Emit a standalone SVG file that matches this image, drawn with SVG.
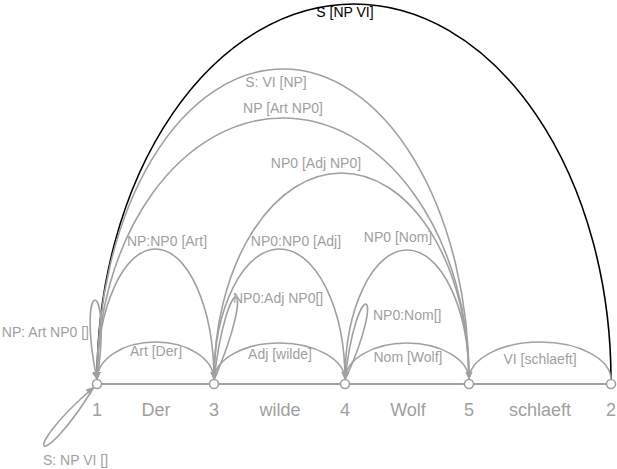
<svg xmlns="http://www.w3.org/2000/svg" width="617" height="469" viewBox="0 0 617 469">
<style>
.e{fill:none;stroke:#a0a0a0;stroke-width:1.6}
.k{fill:none;stroke:#000;stroke-width:1.6}
.t{font-family:"Liberation Sans",Arial,Helvetica,sans-serif;font-size:14px;fill:#a0a0a0}
.tk{font-family:"Liberation Sans",Arial,Helvetica,sans-serif;font-size:14px;fill:#000}
.w{font-family:"Liberation Sans",Arial,Helvetica,sans-serif;font-size:18px;fill:#a0a0a0;text-anchor:middle}
.m{text-anchor:middle}
.n{fill:#fff;stroke:#a0a0a0;stroke-width:1.6}
</style>
<defs>
<marker id="a" viewBox="0 0 10 10" refX="10" refY="5" markerWidth="9" markerHeight="8" orient="auto" markerUnits="userSpaceOnUse"><path d="M0,0.5 L10,5 L0,9.5 z" fill="#a0a0a0"/></marker>
<marker id="ak" viewBox="0 0 10 10" refX="10" refY="5" markerWidth="9" markerHeight="8" orient="auto" markerUnits="userSpaceOnUse"><path d="M0,0.5 L10,5 L0,9.5 z" fill="#000"/></marker>
</defs>
<rect width="617" height="469" fill="#fff"/>
<g id="connectors">
<line x1="97" y1="384" x2="611" y2="384" stroke="#a0a0a0" stroke-width="2"/>
<g id="e-S-NP-VI"><path class="k" d="M611,380 A257,376 0 0 0 97,380" marker-end="url(#ak)"/><text class="tk m" x="345" y="17">S [NP VI]</text></g>
<g id="e-S-VI-NP"><path class="e" d="M469,380 A186,311 0 0 0 97,380" marker-end="url(#a)"/><text class="t m" x="276" y="87">S: VI [NP]</text></g>
<g id="e-NP-Art-NP0"><path class="e" d="M469,380 A186,262 0 0 0 97,380" marker-end="url(#a)"/><text class="t m" x="283" y="113">NP [Art NP0]</text></g>
<g id="e-NP0-Adj-NP0"><path class="e" d="M469,380 A127.5,207 0 0 0 214,380" marker-end="url(#a)"/><text class="t m" x="316" y="168">NP0 [Adj NP0]</text></g>
<g id="e-NP-NP0-Art"><path class="e" d="M214,380 A58.5,131 0 0 0 97,380" marker-end="url(#a)"/><text class="t m" x="167" y="246">NP:NP0 [Art]</text></g>
<g id="e-NP0-NP0-Adj"><path class="e" d="M345,380 A65.5,131 0 0 0 214,380" marker-end="url(#a)"/><text class="t m" x="296" y="246">NP0:NP0 [Adj]</text></g>
<g id="e-NP0-Nom"><path class="e" d="M469,380 A62,130 0 0 0 345,380" marker-end="url(#a)"/><text class="t m" x="398" y="242">NP0 [Nom]</text></g>
<g id="e-Art-Der"><path class="e" d="M214,380 A58.5,38 0 0 0 97,380" marker-end="url(#a)"/><text class="t m" x="156" y="356">Art [Der]</text></g>
<g id="e-Adj-wilde"><path class="e" d="M345,380 A65.5,37 0 0 0 214,380" marker-end="url(#a)"/><text class="t m" x="280" y="359">Adj [wilde]</text></g>
<g id="e-Nom-Wolf"><path class="e" d="M469,380 A62,37 0 0 0 345,380" marker-end="url(#a)"/><text class="t m" x="408" y="362">Nom [Wolf]</text></g>
<g id="e-VI-schlaeft"><path class="e" d="M611,380 A71,38 0 0 0 469,380" marker-end="url(#a)"/><text class="t m" x="540" y="364">VI [schlaeft]</text></g>
<g id="l-NP-Art-NP0"><path class="e" d="M97,380 C113.3,273.1 75.3,274.1 97,380" marker-end="url(#a)"/><text class="t" x="89" y="337" text-anchor="end">NP: Art NP0 []</text></g>
<g id="l-S-NP-VI"><path class="e" d="M94,387 C39.7,475.9 15.3,455.1 94,387" marker-end="url(#a)"/><text class="t" x="43" y="465">S: NP VI []</text></g>
<g id="l-NP0-Adj-NP0"><path class="e" d="M214,380 C259.7,274 226.9,265.2 214,380" marker-end="url(#a)"/><text class="t" x="233" y="303">NP0:Adj NP0[]</text></g>
<g id="l-NP0-Nom"><path class="e" d="M345,380 C389.3,283.4 356.5,274.4 345,380" marker-end="url(#a)"/><text class="t" x="373" y="320">NP0:Nom[]</text></g>
</g>
<g id="node-1"><circle class="n" cx="97" cy="384" r="4.5"/><text class="w" x="97" y="416">1</text></g>
<g id="word-Der"><text class="w" x="156" y="416">Der</text></g>
<g id="node-3"><circle class="n" cx="214" cy="384" r="4.5"/><text class="w" x="214" y="416">3</text></g>
<g id="word-wilde"><text class="w" x="280" y="416">wilde</text></g>
<g id="node-4"><circle class="n" cx="345" cy="384" r="4.5"/><text class="w" x="345" y="416">4</text></g>
<g id="word-Wolf"><text class="w" x="408" y="416">Wolf</text></g>
<g id="node-5"><circle class="n" cx="469" cy="384" r="4.5"/><text class="w" x="469" y="416">5</text></g>
<g id="word-schlaeft"><text class="w" x="540" y="416">schlaeft</text></g>
<g id="node-2"><circle class="n" cx="611" cy="384" r="4.5"/><text class="w" x="611" y="416">2</text></g>
</svg>
